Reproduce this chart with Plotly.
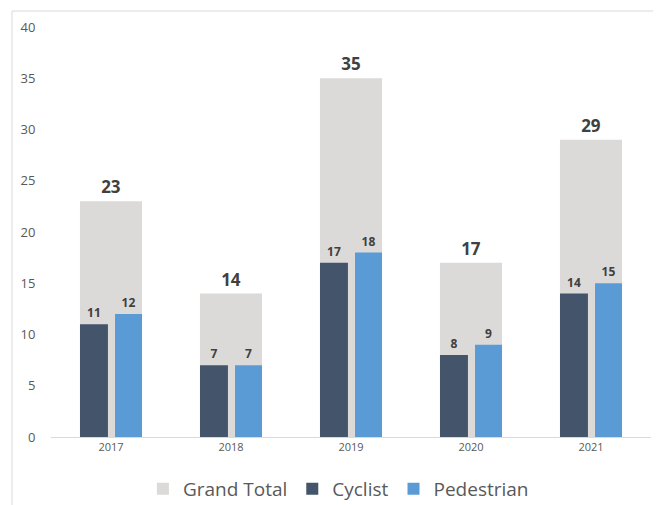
import plotly.graph_objects as go

years = ["2017", "2018", "2019", "2020", "2021"]
grand_total = [23, 14, 35, 17, 29]
cyclist = [11, 7, 17, 8, 14]
pedestrian = [12, 7, 18, 9, 15]
y_ticks = [0, 5, 10, 15, 20, 25, 30, 35, 40]

FONT = "Open Sans"
fig = go.Figure()
fig.add_trace(go.Bar(
    x=years, y=grand_total, name="Grand Total",
    marker=dict(color="#DBDAD9", line=dict(width=0)),
    width=0.517, offset=-0.2585,
    text=grand_total, textposition="outside", cliponaxis=False,
    textfont=dict(family=FONT, size=17, color="#404040", weight="bold"),
))
fig.add_trace(go.Bar(
    x=years, y=cyclist, name="Cyclist",
    marker=dict(color="#44546A", line=dict(width=0)),
    width=0.233, offset=-0.2585,
    text=cyclist, textposition="outside", cliponaxis=False,
    textfont=dict(family=FONT, size=12, color="#404040", weight="bold"),
))
fig.add_trace(go.Bar(
    x=years, y=pedestrian, name="Pedestrian",
    marker=dict(color="#5B9BD5", line=dict(width=0)),
    width=0.225, offset=0.0335,
    text=pedestrian, textposition="outside", cliponaxis=False,
    textfont=dict(family=FONT, size=12, color="#404040", weight="bold"),
))

fig.update_layout(
    width=653, height=497,
    margin=dict(l=43, r=10, t=19, b=68, autoexpand=False),
    barmode="overlay",
    plot_bgcolor="white", paper_bgcolor="white",
    font=dict(family=FONT, color="#595959"),
    showlegend=True,
    legend=dict(orientation="h", x=0.479, xanchor="center", y=-0.08, yanchor="top",
                font=dict(size=19, color="#595959"), traceorder="normal",
                itemwidth=30),
    xaxis=dict(showgrid=False, showline=True, linecolor="#D9D9D9", linewidth=1,
               tickfont=dict(size=11, color="#595959"), ticks="", fixedrange=True,
               automargin=False),
    yaxis=dict(range=[0, 40], tickvals=y_ticks, showgrid=False, zeroline=False,
               showline=False, tickfont=dict(size=13, color="#595959"),
               ticks="outside", ticklen=12, tickcolor="white", automargin=False),
    shapes=[
        dict(type="line", xref="paper", yref="paper", x0=-0.065, x1=-0.065, y0=-0.2, y1=1.039,
             line=dict(color="#D9D9D9", width=1)),
        dict(type="line", xref="paper", yref="paper", x0=-0.065, x1=1.02, y0=1.039, y1=1.039,
             line=dict(color="#D9D9D9", width=1)),
    ],
)

fig.write_html("out.html")
